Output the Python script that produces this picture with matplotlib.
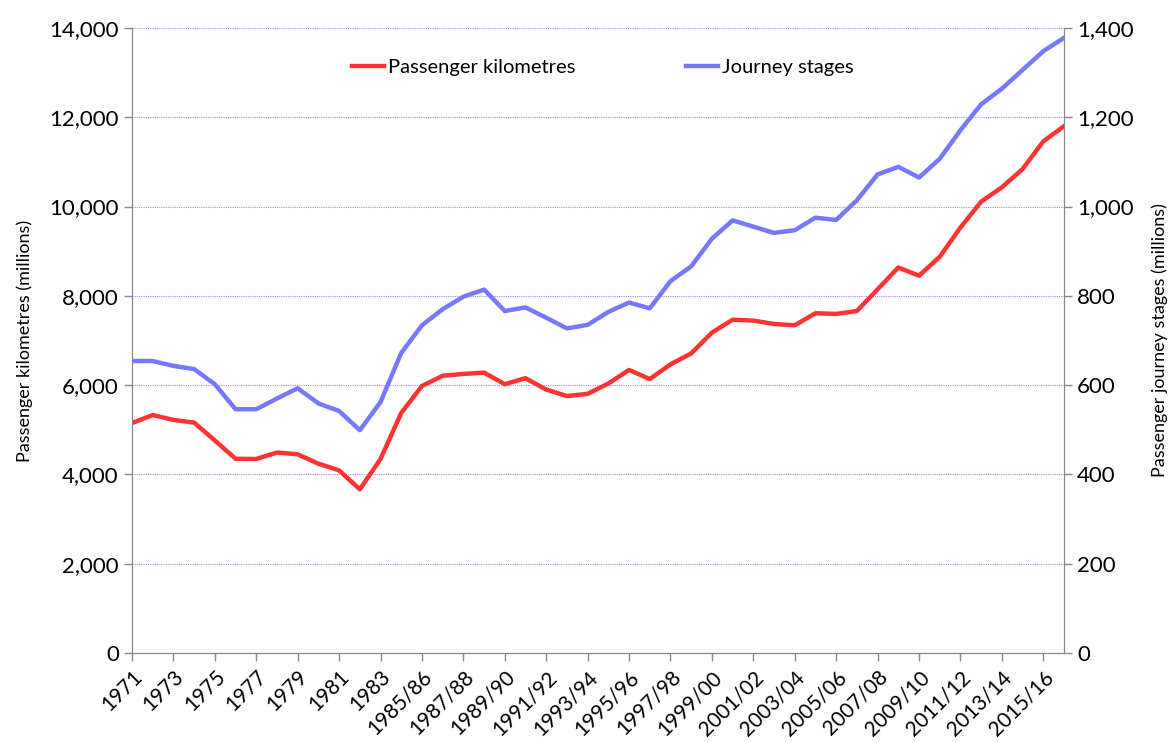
import matplotlib
matplotlib.use("Agg")
from matplotlib import pyplot as plt
from matplotlib.ticker import FuncFormatter

plt.rcParams['font.family'] = ['Lato', 'DejaVu Sans']

years = ([str(y) for y in range(1971, 1985)] +
         ["%d/%02d" % (y, (y + 1) % 100) for y in range(1985, 2017)])

# passenger kilometres (millions), left axis
pass_km = [5150, 5330, 5220, 5160, 4760, 4350, 4345, 4490, 4450, 4240,
           4090, 3665, 4345, 5375, 5980, 6210, 6250, 6280, 6020, 6155,
           5900, 5755, 5805, 6035, 6340, 6135, 6465, 6710, 7175, 7465,
           7445, 7370, 7340, 7610, 7595, 7660, 8145, 8635, 8450, 8875,
           9530, 10110, 10430, 10840, 11460, 11800]

# passenger journey stages (millions), right axis
journeys = [654, 654, 643, 636, 602, 546, 546, 570, 593, 559,
            542, 499, 562, 672, 734, 770, 798, 814, 766, 774,
            751, 727, 735, 764, 785, 772, 833, 866, 928, 969,
            955, 941, 947, 975, 970, 1014, 1072, 1089, 1065, 1107,
            1171, 1229, 1264, 1306, 1348, 1378]

x = list(range(len(years)))

fig, ax = plt.subplots(figsize=(11.7, 7.42), dpi=100)
fig.subplots_adjust(left=0.1128, right=0.9094, bottom=0.12, top=0.9623)
ax2 = ax.twinx()

l1, = ax.plot(x, pass_km, color='#ff3333', lw=3.2, label='Passenger kilometres', zorder=3)
l2, = ax2.plot(x, journeys, color='#7878ff', lw=3.2, label='Journey stages', zorder=3)

ax.set_xlim(0, len(years) - 1)
ax.set_ylim(0, 14000)
ax2.set_ylim(0, 1400)
ax.set_yticks(range(0, 14001, 2000))
ax2.set_yticks(range(0, 1401, 200))
fmt = FuncFormatter(lambda v, p: "{:,}".format(int(v)))
ax.yaxis.set_major_formatter(fmt)
ax2.yaxis.set_major_formatter(fmt)

ax.set_xticks(x[::2])
ax.set_xticklabels(years[::2], rotation=45, ha='right', rotation_mode='anchor')

ax.yaxis.grid(True, color='#9c8cf0', linestyle=(0, (1, 1)), lw=0.8)
ax.set_axisbelow(True)

for a in (ax, ax2):
    for s in a.spines.values():
        s.set_color('#888888')
    a.tick_params(axis='both', colors='#888888', labelcolor='black', labelsize=16,
                  length=6, width=1)
ax2.spines['top'].set_visible(False)
ax.spines['top'].set_visible(False)
ax.tick_params(axis='x', labelsize=15, pad=4)

ax.set_ylabel('Passenger kilometres (millions)', fontsize=13, labelpad=12)
ax2.set_ylabel('Passenger journey stages (millions)', fontsize=13, labelpad=13)

ax.legend(handles=[l1, l2], loc='upper center', bbox_to_anchor=(0.505, 0.98), ncol=2,
          frameon=False, fontsize=14.5, columnspacing=5.5, handlelength=1.6,
          handletextpad=0.2)

fig.savefig('out.png', dpi=100)
